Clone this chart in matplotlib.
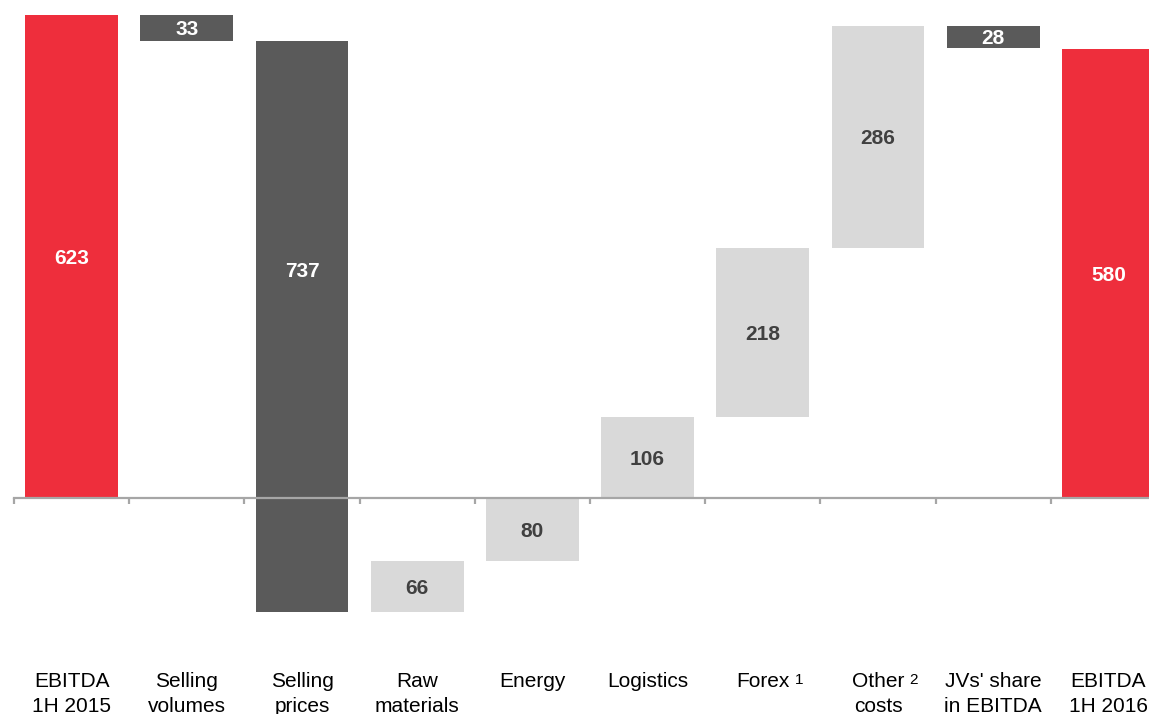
"""EBITDA bridge 1H 2015 -> 1H 2016 as a waterfall chart."""
import matplotlib
matplotlib.use("Agg")
import matplotlib.pyplot as plt
from matplotlib.transforms import blended_transform_factory

plt.rcParams["font.family"] = ["Liberation Sans", "DejaVu Sans"]

line1 = ["EBITDA", "Selling", "Selling", "Raw", "Energy", "Logistics",
         "Forex", "Other", "JVs' share", "EBITDA"]
line2 = ["1H 2015", "volumes", "prices", "materials", "", "",
         "", "costs", "in EBITDA", "1H 2016"]
notes = ["", "", "", "", "", "", "1", "2", "", ""]

start_value = 623
changes = [-33, -737, 66, 80, 106, 218, 286, -28]
end_value = 580

RED = "#EE2E3C"
DARK = "#5A5A5A"
LIGHT = "#D9D9D9"
AXIS = "#A6A6A6"


def main():
    fig = plt.figure(figsize=(11.49, 7.14), dpi=100)
    ax = fig.add_axes([0, 0, 1, 1])

    # bar extents: (bottom, top, colour)
    bars = [(0, start_value, RED)]
    level = start_value
    for d in changes:
        lo, hi = sorted((level, level + d))
        bars.append((lo, hi, DARK if d < 0 else LIGHT))
        level += d
    bars.append((0, end_value, RED))
    values = [start_value] + [abs(d) for d in changes] + [end_value]

    width = 0.807
    for i, ((lo, hi, col), v) in enumerate(zip(bars, values)):
        ax.bar(i, hi - lo, bottom=lo, width=width, color=col, zorder=1)
        mid = hi / 2 if lo < 0 < hi else (lo + hi) / 2
        tc = "#404040" if col == LIGHT else "white"
        ax.text(i, mid, str(v), ha="center", va="center_baseline", color=tc,
                fontsize=15, fontweight="bold", zorder=3)

    # zero axis with ticks between categories
    n = len(values)
    ax.set_xlim(-0.5 - 14 / 115.2, -0.5 + 1135 / 115.2)
    ax.set_ylim(-(714 - 498) / 0.775, 498 / 0.775)
    for s in ["top", "left", "right"]:
        ax.spines[s].set_visible(False)
    ax.spines["bottom"].set_position(("data", 0))
    ax.spines["bottom"].set_bounds(-0.5, n)
    ax.spines["bottom"].set_color(AXIS)
    ax.spines["bottom"].set_linewidth(1.6)
    ax.spines["bottom"].set_zorder(2)
    ax.set_xticks([i - 0.5 for i in range(n)])
    ax.set_xticklabels([])
    ax.tick_params(axis="x", direction="out", length=4.5, width=1.6, color=AXIS)
    ax.set_yticks([])

    # category names under the chart
    tr = blended_transform_factory(ax.transData, ax.transAxes)
    for i in range(n):
        t = ax.text(i, 1 - 687 / 714, line1[i], transform=tr, ha="center",
                    va="baseline", fontsize=15, color="black")
        if line2[i]:
            ax.text(i, 1 - 712 / 714, line2[i], transform=tr, ha="center",
                    va="baseline", fontsize=15, color="black")
        if notes[i]:
            ax.annotate(notes[i], xy=(1, 0), xycoords=t, xytext=(4, 5),
                        textcoords="offset points", ha="left", va="baseline",
                        fontsize=11, color="black")

    fig.savefig("out.png", dpi=100)


if __name__ == "__main__":
    main()
